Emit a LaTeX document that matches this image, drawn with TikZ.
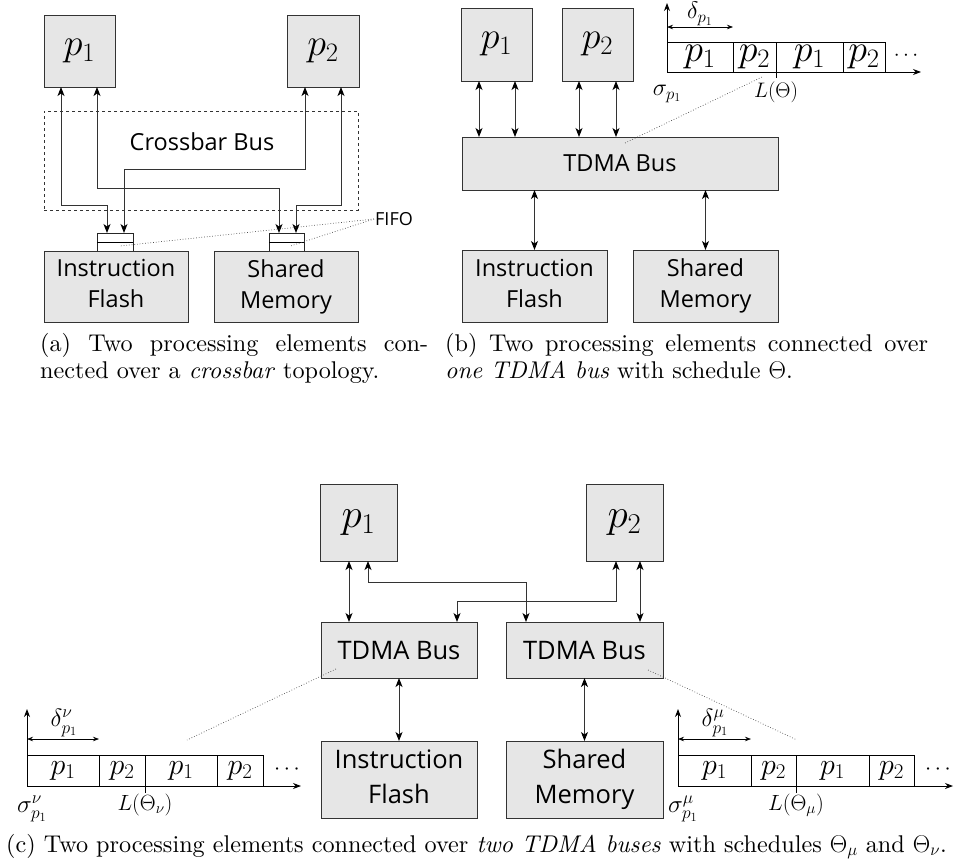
\documentclass[tikz,border=0pt]{standalone}
\usepackage{fix-cm}
\usepackage{fontspec}
\setmainfont{lmroman10-regular.otf}[ItalicFont=lmroman10-italic.otf,BoldFont=lmroman10-bold.otf]
\newfontfamily\boxfont{Open Sans}
\usetikzlibrary{arrows.meta,calc}
\definecolor{boxgray}{RGB}{230,230,230}
\begin{document}
\begin{tikzpicture}[x=1pt,y=-1pt,
 >={Stealth[length=9pt,width=7pt,inset=2.5pt,color=black]},
 blk/.style={draw=black!80,fill=boxgray,line width=0.9pt,inner sep=0pt,outer sep=0pt,align=center},
 pe/.style={blk,font=\fontsize{38}{40}\selectfont},
 pec/.style={blk,font=\fontsize{41}{44}\selectfont},
 sbox/.style={blk,font=\boxfont\fontsize{23.5}{31}\selectfont},
 sboxc/.style={blk,font=\boxfont\fontsize{25.5}{35}\selectfont},
 fifo/.style={draw=black!85,fill=white,line width=0.8pt,inner sep=0pt,outer sep=0pt,minimum height=18pt},
 conn/.style={draw=black!80,line width=1pt,<->},
 slot/.style={draw,line width=0.8pt,inner sep=0pt,outer sep=0pt,anchor=south west},
 slotb/.style={slot,minimum height=30pt,font=\fontsize{38}{40}\selectfont},
 slotc/.style={slot,minimum height=31pt,font=\fontsize{30}{32}\selectfont},
 axis/.style={line width=0.9pt,-{Stealth[length=8pt,width=6pt]}},
 dim/.style={line width=0.7pt,{Stealth[length=6pt,width=4.5pt]}-{Stealth[length=6pt,width=4.5pt]}},
 dots/.style={dotted,draw=black!70,line width=0.7pt},
 lblb/.style={inner sep=0pt,font=\fontsize{21}{23}\selectfont},
 lblbs/.style={inner sep=0pt,font=\fontsize{24}{26}\selectfont},
 lblc/.style={inner sep=0pt,font=\fontsize{22}{24}\selectfont},
 lblcs/.style={inner sep=0pt,font=\fontsize{25}{27}\selectfont},
 captext/.style={inner sep=0pt,font=\fontsize{24.2}{28}\selectfont,anchor=base west},
]
\useasboundingbox (0,0) rectangle (970,863);

% ---------------- (a) ----------------
\node[pe,minimum width=71pt,minimum height=72pt] (ap1) at (79.5,51) {$p_1$};
\node[pe,minimum width=72pt,minimum height=72pt] (ap2) at (323,51) {$p_2$};
\node[draw=black!80,dash pattern=on 3pt off 3pt,line width=0.9pt,minimum width=314pt,minimum height=99pt,inner sep=0pt] (abus) at (201,160.5) {};
\node[font=\boxfont\fontsize{23.5}{28}\selectfont] (abuslab) at (202,142) {Crossbar Bus};
\node[fifo,minimum width=36pt] (af1) at (115,242) {};
\draw[line width=0.8pt] (af1.west) -- (af1.east);
\node[fifo,minimum width=35pt] (af2) at (286.5,242) {};
\draw[line width=0.8pt] (af2.west) -- (af2.east);
\node[sbox,minimum width=144pt,minimum height=71pt] (aif) at (116,286.5) {Instruction\\Flash\vphantom{y}};
\node[sbox,minimum width=144pt,minimum height=71pt] (asm) at (286,286.5) {Shared\\Memory};
\draw[conn] ($(ap1.south west)+(17,0)$) -- ++(0,118) -| ($(af1.north west)+(10,0)$);
\draw[conn] ($(ap1.south west)+(53,0)$) -- ++(0,101) -| ($(af2.north west)+(10,0)$);
\draw[conn] ($(ap2.south west)+(18,0)$) -- ++(0,82) -| ($(af1.north west)+(27,0)$);
\draw[conn] ($(ap2.south west)+(54,0)$) -- ++(0,118) -| ($(af2.north west)+(27,0)$);
\node[font=\boxfont\fontsize{18}{20}\selectfont,inner sep=1pt] (afifo) at (394,219) {FIFO};
\draw[dots] (afifo.west) -- ($(af1.center)+(5,4)$);
\draw[dots] (afifo.west) -- ($(af2.center)+(4,4)$);
\node[captext] (capa1) at (40,351) {\makebox[388pt][s]{(a) Two processing elements con-}};
\node[captext] (capa2) at (40,378) {nected over a \textit{crossbar} topology.};

% ---------------- (b) ----------------
\node[pe,minimum width=71pt,minimum height=73pt] (bp1) at (496.5,44.5) {$p_1$};
\node[pe,minimum width=71pt,minimum height=73pt] (bp2) at (597.5,44.5) {$p_2$};
\node[sbox,minimum width=316pt,minimum height=53pt] (bbus) at (620,163.5) {TDMA Bus};
\node[sbox,minimum width=145pt,minimum height=72pt] (bif) at (534.5,286) {Instruction\\Flash\vphantom{y}};
\node[sbox,minimum width=145pt,minimum height=72pt] (bsm) at (705.5,286) {Shared\\Memory};
\foreach \n/\dx in {bp1/18, bp1/54, bp2/17, bp2/54}{
  \coordinate (t) at ($(\n.south west)+(\dx,0)$);
  \draw[conn] (t) -- (t |- bbus.north);
}
\draw[conn] (bif.north |- bbus.south) -- (bif.north);
\draw[conn] (bsm.north |- bbus.south) -- (bsm.north);
% timeline (b)
\coordinate (bo) at (667,72);
\node[slotb,minimum width=66pt] (bs1) at (bo) {$p_1$};
\node[slotb,minimum width=43pt] (bs2) at (bs1.south east) {$p_2$};
\node[slotb,minimum width=67pt] (bs3) at (bs2.south east) {$p_1$};
\node[slotb,minimum width=42pt] (bs4) at (bs3.south east) {$p_2$};
\node[lblb] (bdots) at (906,56) {$\cdots$};
\coordinate (bxe) at (921,72);
\coordinate (bye) at (667,3);
\draw[axis] (bo) -- (bxe);
\draw[axis] (bo) -- (bye);
\draw[line width=0.8pt] (bs2.south east) -- ++(0,6);
\coordinate (bd) at (667,27);
\draw[dim] (bd) -- (bd -| bs1.east);
\node[lblbs] (bdl) at (700,14) {$\delta_{p_1}$};
\node[lblbs] (bsig) at (667,94) {$\sigma_{p_1}$};
\node[lblb] (bL) at (776,92) {$L(\Theta)$};
\coordinate (bda) at (625,143);
\coordinate (bdb) at (762,77);
\draw[dots] (bda) -- (bdb);
\node[captext] (capb1) at (445,351) {\makebox[483pt][s]{(b) Two processing elements connected over}};
\node[captext] (capb2) at (445,378) {\textit{one TDMA bus} with schedule $\Theta$.};

% ---------------- (c) ----------------
\node[pec,minimum width=77pt,minimum height=77pt] (cp1) at (358.5,522.5) {$p_1$};
\node[pec,minimum width=77pt,minimum height=77pt] (cp2) at (624.5,522.5) {$p_2$};
\node[sboxc,minimum width=156pt,minimum height=56pt] (cb1) at (399,650) {TDMA Bus};
\node[sboxc,minimum width=157pt,minimum height=56pt] (cb2) at (584.5,650) {TDMA Bus};
\node[sboxc,minimum width=156pt,minimum height=77pt] (cif) at (399,779.5) {Instruction\\Flash\vphantom{y}};
\node[sboxc,minimum width=157pt,minimum height=77pt] (csm) at (584.5,779.5) {Shared\\Memory};
\coordinate (c1) at ($(cp1.south west)+(29,0)$);
\draw[conn] (c1) -- (c1 |- cb1.north);
\coordinate (c2) at ($(cp1.south west)+(48,0)$);
\draw[conn] (c2) -- ++(0,21) -| ($(cb2.north west)+(20,0)$);
\coordinate (c3) at ($(cp2.south west)+(30,0)$);
\draw[conn] (c3) -- ++(0,40) -| ($(cb1.north west)+(136,0)$);
\coordinate (c4) at ($(cp2.south west)+(54,0)$);
\draw[conn] (c4) -- (c4 |- cb2.north);
\draw[conn] (cif.north |- cb1.south) -- (cif.north);
\draw[conn] (csm.north |- cb2.south) -- (csm.north);
% dotted lines
\coordinate (cda) at (336,669);
\coordinate (cdb) at (187,740);
\draw[dots] (cda) -- (cdb);
\coordinate (cdc) at (648,670);
\coordinate (cdd) at (797,740);
\draw[dots] (cdc) -- (cdd);
% left timeline
\coordinate (lo) at (27,786);
\node[slotc,minimum width=72pt] (ls1) at (lo) {$p_1$};
\node[slotc,minimum width=46pt] (ls2) at (ls1.south east) {$p_2$};
\node[slotc,minimum width=72pt] (ls3) at (ls2.south east) {$p_1$};
\node[slotc,minimum width=46pt] (ls4) at (ls3.south east) {$p_2$};
\node[lblc] (ldots) at (287,770) {$\cdots$};
\coordinate (lxe) at (301,786);
\coordinate (lye) at (27,709);
\draw[axis] (lo) -- (lxe);
\draw[axis] (lo) -- (lye);
\draw[line width=0.8pt] (ls2.south east) -- ++(0,7);
\coordinate (ld) at (27,739);
\draw[dim] (ld) -- (ld -| ls1.east);
\node[lblcs] (ldl) at (64,723) {$\delta^{\nu}_{p_1}$};
\node[lblcs] (lsig) at (32,809) {$\sigma^{\nu}_{p_1}$};
\node[lblc] (lL) at (145,805) {$L(\Theta_\nu)$};
% right timeline
\coordinate (ro) at (678,786);
\node[slotc,minimum width=73pt] (rs1) at (ro) {$p_1$};
\node[slotc,minimum width=45pt] (rs2) at (rs1.south east) {$p_2$};
\node[slotc,minimum width=73pt] (rs3) at (rs2.south east) {$p_1$};
\node[slotc,minimum width=45pt] (rs4) at (rs3.south east) {$p_2$};
\node[lblc] (rdots) at (938,770) {$\cdots$};
\coordinate (rxe) at (953,786);
\coordinate (rye) at (678,709);
\draw[axis] (ro) -- (rxe);
\draw[axis] (ro) -- (rye);
\draw[line width=0.8pt] (rs2.south east) -- ++(0,7);
\coordinate (rd) at (678,739);
\draw[dim] (rd) -- (rd -| rs1.east);
\node[lblcs] (rdl) at (715,723) {$\delta^{\mu}_{p_1}$};
\node[lblcs] (rsig) at (683,809) {$\sigma^{\mu}_{p_1}$};
\node[lblc] (rL) at (796,805) {$L(\Theta_\mu)$};
\node[captext] (capc) at (6,852) {(c) Two processing elements connected over \textit{two TDMA buses} with schedules $\Theta_\mu$ and $\Theta_\nu$.};
\end{tikzpicture}
\end{document}
